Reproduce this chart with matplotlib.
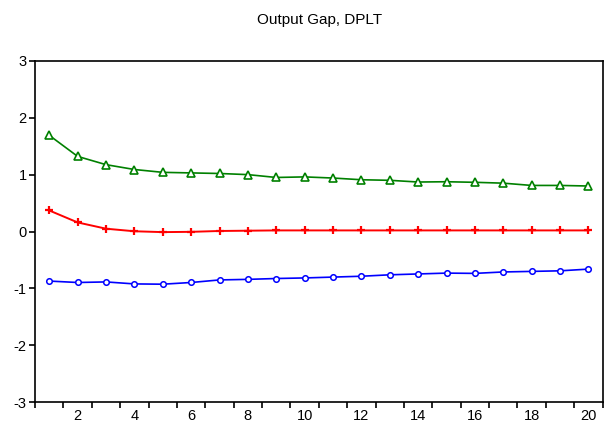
import numpy as np
import matplotlib
matplotlib.use('Agg')
import matplotlib.pyplot as plt

plt.rcParams['font.family'] = ['Liberation Sans', 'DejaVu Sans']
plt.rcParams['axes.unicode_minus'] = False

# Horyzont i ścieżki
periods = list(range(1, 21))
upper = [1.69, 1.32, 1.175, 1.09, 1.04, 1.03, 1.02, 1.00, 0.95, 0.96,
         0.94, 0.91, 0.90, 0.87, 0.875, 0.865, 0.85, 0.81, 0.81, 0.80]
mid = [0.37, 0.16, 0.05, 0.005, -0.01, -0.005, 0.01, 0.015, 0.02, 0.02,
       0.02, 0.02, 0.02, 0.02, 0.02, 0.02, 0.02, 0.02, 0.02, 0.02]
lower = [-0.87, -0.895, -0.885, -0.92, -0.925, -0.895, -0.85, -0.84, -0.825, -0.815,
         -0.80, -0.785, -0.76, -0.745, -0.73, -0.735, -0.71, -0.70, -0.69, -0.66]
title = "Output Gap, DPLT"

fig = plt.figure(figsize=(6.05, 4.28), dpi=100)
ax = fig.add_axes([0.058, 0.06, 0.938, 0.798])

ax.plot(periods, upper, color='#008000', lw=1.2, marker='^', ms=5.5,
        mfc='white', mec='#008000', mew=1.2)
ax.plot(periods, mid, color='#ff0000', lw=1.4, marker='+', ms=6,
        mec='#ff0000', mew=1.6)
ax.plot(periods, lower, color='#0000ff', lw=1.2, marker='o', ms=4,
        mfc='white', mec='#0000ff', mew=1.1)

ax.set_xlim(0.5, 20.5)
ax.set_ylim(-3, 3)
ax.set_yticks(range(-3, 4))
ax.set_xticks(np.arange(0.5, 21, 1.0))
ax.set_xticklabels([])
ax.set_xticks(range(2, 21, 2), minor=True)
ax.set_xticklabels([str(v) for v in range(2, 21, 2)], minor=True)
ax.tick_params(axis='x', which='minor', length=0, labelsize=10.5, pad=5)
ax.tick_params(axis='x', which='major', length=4, width=1.2, direction='out')
ax.tick_params(axis='y', length=4, width=1.2, labelsize=10.5, pad=2)
for s in ax.spines.values():
    s.set_linewidth(1.2)

fig.text(0.528, 0.953, title, ha='center', va='center', fontsize=11)

fig.savefig('out.png', dpi=100)
